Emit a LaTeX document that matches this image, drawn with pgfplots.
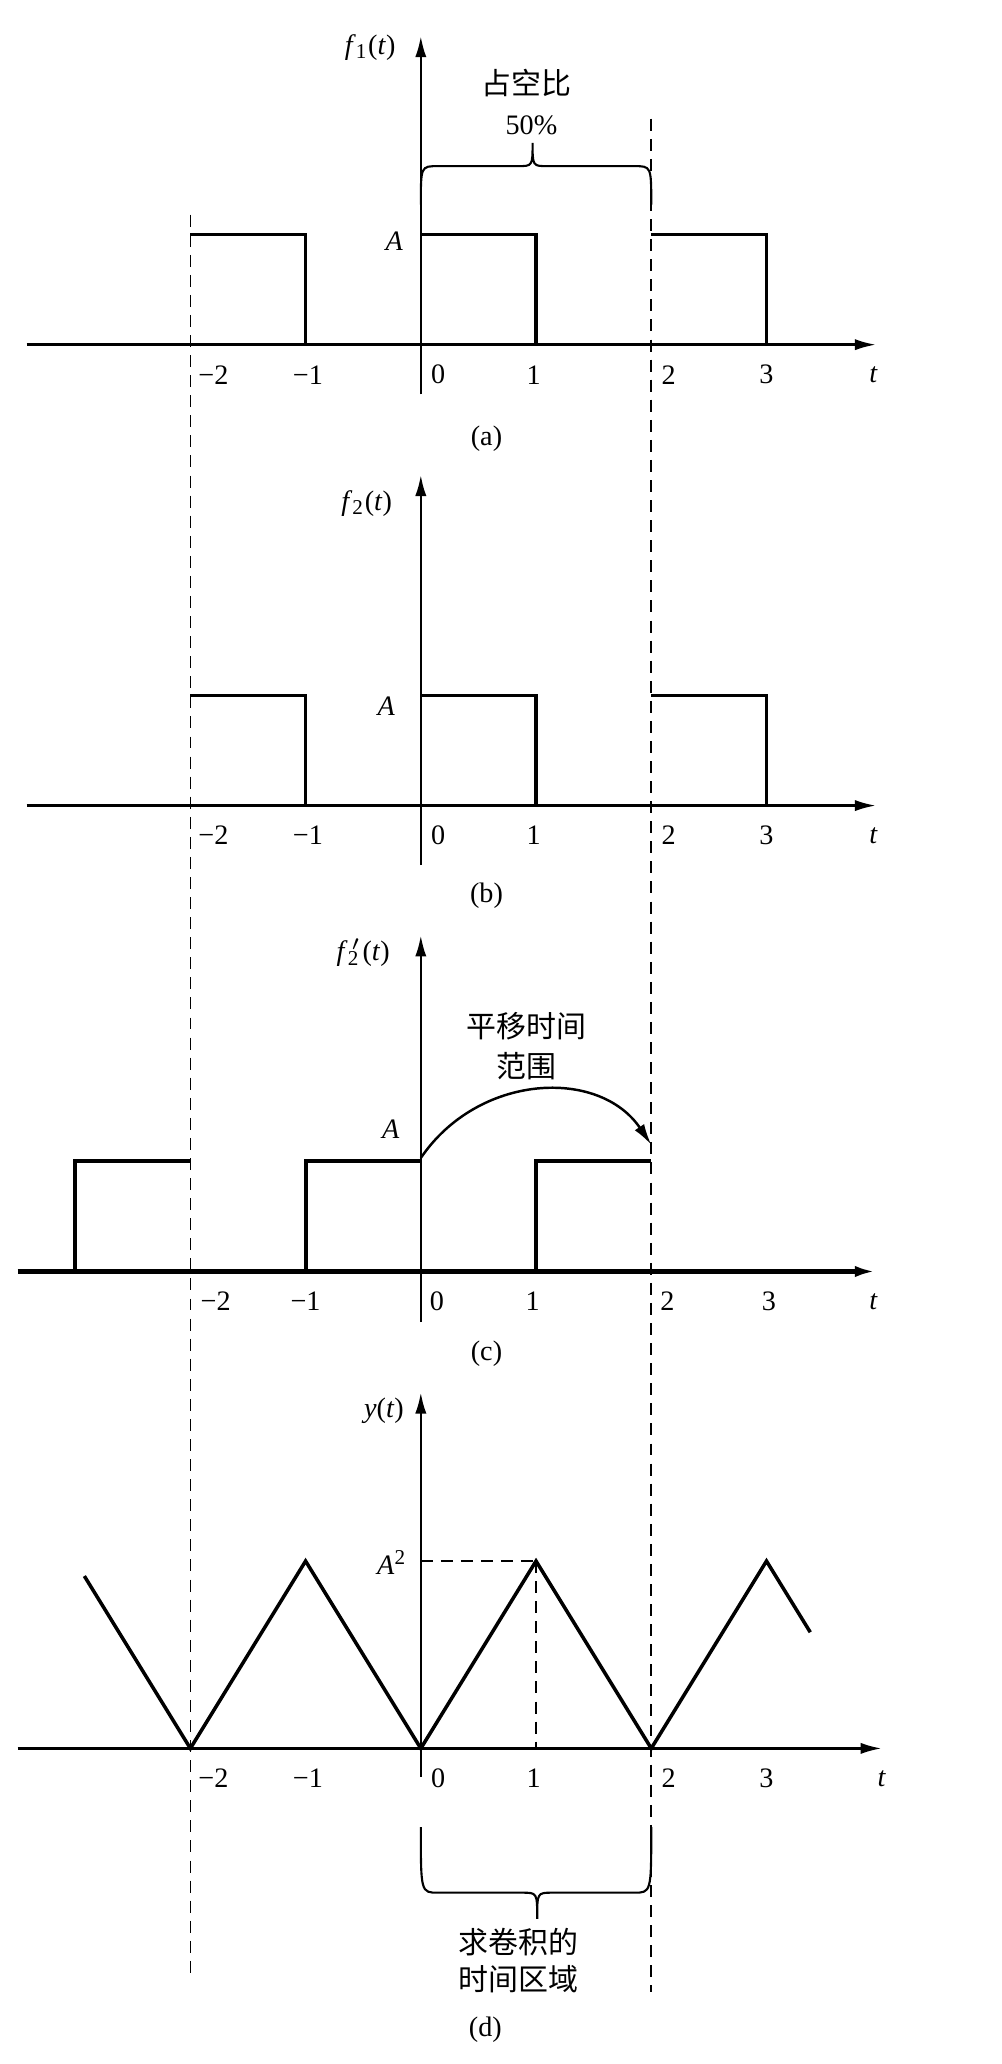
\documentclass[border=0pt]{standalone}
\usepackage{pgfplots}
\pgfplotsset{compat=1.18}
\usetikzlibrary{arrows.meta}
\usepackage{fontspec}
\setmainfont{Liberation Serif}
\newfontfamily\cjk{Noto Sans CJK SC}
\newcommand{\lab}{\fontsize{8}{9.6}\selectfont}
\newcommand{\zh}{\cjk\fontsize{8.5}{10.5}\selectfont}
\newcommand{\tl}[2]{\node[font=\lab,yshift=-0.3cm] at (axis cs:#1,0) {#2};}
\pgfplotsset{
  panel/.style={
    anchor=origin, x=1.15cm, axis lines=middle,
    xtick=\empty, ytick=\empty, clip=false,
    axis line style={line width=0.7pt, -{Latex[length=6pt,width=3.2pt]}},
    xmax=3.95,
  },
  sig/.style={black, line width=0.9pt, mark=none},
}
\tikzset{guide/.style={black, line width=0.45pt, dash pattern=on 3.4pt off 2.3pt}}
\begin{document}
\begin{tikzpicture}
\useasboundingbox (0,0) rectangle (10,-20.6);
% ---------------- (a)
\begin{axis}[panel, at={(4.2cm,-3.44cm)}, y=1.1cm, xmin=-3.42, ymin=-0.45, ymax=2.8]
\addplot[sig] coordinates {(-2,1) (-1,1) (-1,0)};
\addplot[sig] coordinates {(0,1) (1,1) (1,0)};
\addplot[sig] coordinates {(2,1) (3,1) (3,0)};
\draw[line width=0.6pt] (axis cs:0,1.27) .. controls (axis cs:0,1.62) .. (axis cs:0.15,1.62) -- (axis cs:0.84,1.62) .. controls (axis cs:0.97,1.62) .. (axis cs:0.97,1.83) .. controls (axis cs:0.97,1.62) .. (axis cs:1.1,1.62) -- (axis cs:1.85,1.62) .. controls (axis cs:2,1.62) .. (axis cs:2,1.27);
\node[font=\zh] at (axis cs:0.92,2.37) {占空比};
\node[font=\lab] at (axis cs:0.96,1.99) {50\%};
\node[font=\lab] at (axis cs:-0.44,2.7) {\textit{f}\textsubscript{1}(\textit{t})};
\node[font=\lab] at (axis cs:-0.23,0.94) {\textit{A}};
\tl{-1.8}{−2}\tl{-0.98}{−1}\tl{0.15}{0}\tl{0.98}{1}\tl{2.15}{2}\tl{3.0}{3}\tl{3.93}{\textit{t}}
\node[font=\lab] at (axis cs:0.57,-0.855) {(a)};
\coordinate (L1) at (axis cs:-2,1.18);
\coordinate (R1) at (axis cs:2,2.05);
\end{axis}
% ---------------- (b)
\begin{axis}[panel, at={(4.2cm,-8.04cm)}, y=1.1cm, xmin=-3.42, ymin=-0.54, ymax=3.0]
\addplot[sig] coordinates {(-2,1) (-1,1) (-1,0)};
\addplot[sig] coordinates {(0,1) (1,1) (1,0)};
\addplot[sig] coordinates {(2,1) (3,1) (3,0)};
\node[font=\lab] at (axis cs:-0.47,2.74) {\textit{f}\textsubscript{2}(\textit{t})};
\node[font=\lab] at (axis cs:-0.3,0.9) {\textit{A}};
\tl{-1.8}{−2}\tl{-0.98}{−1}\tl{0.15}{0}\tl{0.98}{1}\tl{2.15}{2}\tl{3.0}{3}\tl{3.93}{\textit{t}}
\node[font=\lab] at (axis cs:0.57,-0.82) {(b)};
\end{axis}
% ---------------- (c)
\begin{axis}[panel, at={(4.2cm,-12.69cm)}, y=1.1cm, xmin=-3.5, ymin=-0.46, ymax=3.05,
  x axis line style={line width=1.3pt}]
\addplot[sig, line width=1.1pt] coordinates {(-3,0) (-3,1) (-2,1)};
\addplot[sig, line width=1.1pt] coordinates {(-1,0) (-1,1) (0,1)};
\addplot[sig, line width=1.1pt] coordinates {(1,0) (1,1) (2,1)};
\draw[line width=0.7pt, -{Latex[length=6pt,width=3.2pt]}] (axis cs:0,1.03) .. controls (axis cs:0.5,1.8) and (axis cs:1.55,1.85) .. (axis cs:2,1.15);
\node[font=\zh] at (axis cs:0.92,2.23) {平移时间};
\node[font=\zh] at (axis cs:0.92,1.86) {范围};
\node[font=\lab] at (axis cs:-0.5,2.89) {\textit{f}\textsubscript{2}\kern-0.3em\textsuperscript{$\prime$}\kern0.05em(\textit{t})};
\node[font=\lab] at (axis cs:-0.26,1.29) {\textit{A}};
\tl{-1.78}{−2}\tl{-1.0}{−1}\tl{0.14}{0}\tl{0.97}{1}\tl{2.14}{2}\tl{3.02}{3}\tl{3.93}{\textit{t}}
\node[font=\lab] at (axis cs:0.57,-0.75) {(c)};
\end{axis}
% ---------------- (d)
\begin{axis}[panel, at={(4.2cm,-17.45cm)}, y=1.87cm, xmin=-3.5, xmax=4.0, ymin=-0.15, ymax=1.9]
\addplot[sig, line width=1pt] coordinates {(-2.92,0.92) (-2,0) (-1,1) (0,0) (1,1) (2,0) (3,1) (3.38,0.62)};
\addplot[guide] coordinates {(0,1) (1,1)};
\addplot[guide] coordinates {(1,1) (1,0)};
\draw[line width=0.6pt] (axis cs:0,-0.42) .. controls (axis cs:0,-0.77) .. (axis cs:0.15,-0.77) -- (axis cs:0.88,-0.77) .. controls (axis cs:1.01,-0.77) .. (axis cs:1.01,-0.91) .. controls (axis cs:1.01,-0.77) .. (axis cs:1.14,-0.77) -- (axis cs:1.85,-0.77) .. controls (axis cs:2,-0.77) .. (axis cs:2,-0.42);
\node[font=\zh] at (axis cs:0.85,-1.035) {求卷积的};
\node[font=\zh] at (axis cs:0.85,-1.23) {时间区域};
\node[font=\lab] at (axis cs:-0.32,1.8) {\textit{y}(\textit{t})};
\node[font=\lab] at (axis cs:-0.25,0.99) {\textit{A}\textsuperscript{2}};
\tl{-1.8}{−2}\tl{-0.98}{−1}\tl{0.15}{0}\tl{0.98}{1}\tl{2.15}{2}\tl{3.0}{3}\tl{4.0}{\textit{t}}
\node[font=\lab] at (axis cs:0.56,-1.5) {(d)};
\coordinate (L2) at (axis cs:-2,-1.21);
\coordinate (R2) at (axis cs:2,-1.30);
\end{axis}
\draw[guide] (L1) -- (L2);
\draw[guide] (R1) -- (R2);
\end{tikzpicture}
\end{document}
